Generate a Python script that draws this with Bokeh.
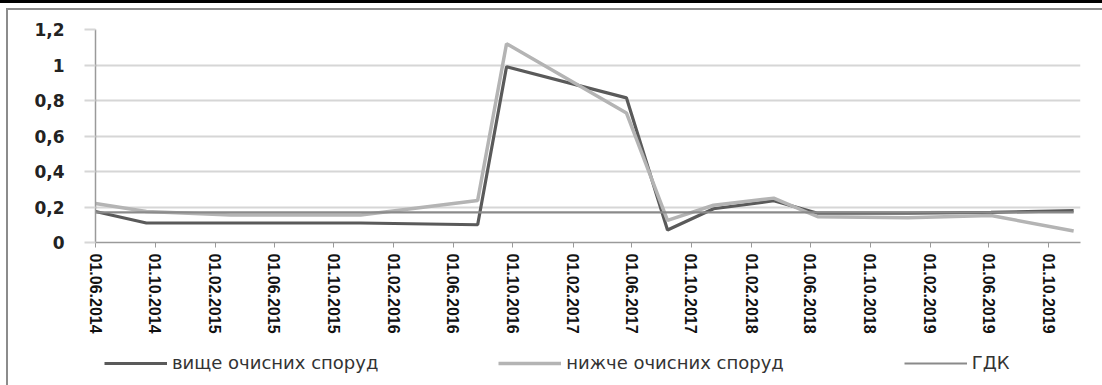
import pandas as pd
from bokeh.plotting import figure
from bokeh.layouts import column
from bokeh.models import (Range1d, FixedTicker, DatetimeTickFormatter, Legend,
                          LegendItem)
from bokeh.embed import file_html
from bokeh.resources import INLINE

# Sampling dates (dd.mm.yyyy)
sample_dates = ["01.06.2014", "13.09.2014", "04.03.2015", "25.11.2015", "21.07.2016",
                "18.09.2016", "21.05.2017", "13.08.2017", "15.11.2017", "18.03.2018",
                "16.06.2018", "17.12.2018", "05.06.2019", "21.11.2019"]

# Concentration above the treatment facilities
above = [0.175, 0.11, 0.11, 0.11, 0.10, 0.99, 0.815, 0.07, 0.19, 0.235,
         0.165, 0.165, 0.17, 0.18]
# Concentration below the treatment facilities
below = [0.22, 0.175, 0.155, 0.155, 0.237, 1.12, 0.73, 0.125, 0.21, 0.25,
         0.145, 0.14, 0.152, 0.065]
# Maximum permissible concentration
limit = [0.17, 0.17, 0.17, 0.17, 0.17, 0.17, 0.17, 0.17, 0.17, 0.17,
         0.17, 0.17, 0.17, 0.17]

series_names = ["вище очисних споруд", "нижче очисних споруд", "ГДК"]
series_colors = ["#5a5a5a", "#b4b4b4", "#8a8a8a"]
series_widths = [3.2, 3.5, 2.2]

x_tick_labels = ["01.06.2014", "01.10.2014", "01.02.2015", "01.06.2015", "01.10.2015",
                 "01.02.2016", "01.06.2016", "01.10.2016", "01.02.2017", "01.06.2017",
                 "01.10.2017", "01.02.2018", "01.06.2018", "01.10.2018", "01.02.2019",
                 "01.06.2019", "01.10.2019"]
y_ticks = [0, 0.2, 0.4, 0.6, 0.8, 1, 1.2]
y_tick_labels = ["0", "0,2", "0,4", "0,6", "0,8", "1", "1,2"]

x = pd.to_datetime(sample_dates, format="%d.%m.%Y")
tick_dt = pd.to_datetime(x_tick_labels, format="%d.%m.%Y")
tick_ms = [int(t.value // 10**6) for t in tick_dt]

W = 1102
H_CHART, H_LEGEND = 345, 40

p = figure(width=W, height=H_CHART, output_backend="svg", toolbar_location=None,
           x_axis_type="datetime",
           x_range=Range1d(pd.Timestamp("2014-06-01"), pd.Timestamp("2019-12-05")),
           y_range=Range1d(0, 1.2),
           min_border_left=95, min_border_right=22, min_border_top=29,
           min_border_bottom=103)
p.outline_line_color = None
p.background_fill_color = "white"
p.border_fill_alpha = 0

# grid
p.xgrid.grid_line_color = None
p.ygrid.grid_line_color = "#d6d6d6"
p.ygrid.grid_line_width = 2
p.ygrid.ticker = FixedTicker(ticks=y_ticks)

# y axis
ya = p.yaxis[0]
ya.ticker = FixedTicker(ticks=y_ticks)
ya.major_label_overrides = dict(zip(y_ticks, y_tick_labels))
ya.axis_line_color = "#9a9a9a"
ya.axis_line_width = 1.5
ya.major_tick_line_color = "#d6d6d6"
ya.major_tick_line_width = 2
ya.major_tick_out = 11
ya.major_tick_in = 0
ya.minor_tick_line_color = None
ya.major_label_standoff = 20
ya.major_label_text_font = "DejaVu Sans"
ya.major_label_text_font_style = "bold"
ya.major_label_text_font_size = "17px"
ya.major_label_text_color = "#222222"

# x axis
xa = p.xaxis[0]
xa.ticker = FixedTicker(ticks=tick_ms)
fmt = "%d.%m.%Y"
xa.formatter = DatetimeTickFormatter(days=fmt, months=fmt, years=fmt, hours=fmt)
xa.major_label_overrides = dict(zip(tick_ms, x_tick_labels))
xa.major_label_orientation = "vertical"
xa.axis_line_color = "#9a9a9a"
xa.axis_line_width = 1.5
xa.major_tick_line_color = "#9a9a9a"
xa.major_tick_line_width = 1
xa.major_tick_out = 5
xa.major_tick_in = 0
xa.minor_tick_line_color = None
xa.major_label_standoff = 6
xa.major_label_text_font = "Liberation Sans"
xa.major_label_text_font_style = "bold"
xa.major_label_text_font_size = "16px"
xa.major_label_text_color = "#111111"

# series
for vals, col, lw in zip([above, below, limit], series_colors, series_widths):
    p.line(x, vals, line_color=col, line_width=lw)

# legend strip under the chart; its y range sits above the data so the
# key renderers only supply the legend swatches
lg = figure(width=W, height=H_LEGEND, output_backend="svg", toolbar_location=None,
            x_range=p.x_range, y_range=Range1d(10, 11),
            min_border_left=95, min_border_right=22,
            min_border_top=0, min_border_bottom=0)
lg.axis.visible = False
lg.grid.visible = False
lg.outline_line_color = None
lg.background_fill_alpha = 0
lg.border_fill_alpha = 0
keys = [lg.line(x, vals, line_color=col, line_width=lw)
        for vals, col, lw in zip([above, below, limit], series_colors, series_widths)]
legend = Legend(items=[LegendItem(label=name, renderers=[r])
                       for name, r in zip(series_names, keys)],
                orientation="horizontal", location=(9, 12),
                glyph_width=63, glyph_height=16, label_standoff=5,
                label_width=0, spacing=120, padding=0, margin=0,
                border_line_color=None, background_fill_alpha=0)
legend.label_text_font = "DejaVu Sans"
legend.label_text_font_size = "18px"
legend.label_text_color = "#333333"
lg.add_layout(legend)

page = column(p, lg, spacing=0)
# page frame: black rule at the top, grey box edge below it and on the left
page.styles = {
    "background": ("linear-gradient(#000,#000) 0 0 / 100% 3px no-repeat, "
                   "linear-gradient(#8c8c8c,#8c8c8c) 6px 8px / 100% 2px no-repeat, "
                   "linear-gradient(#8c8c8c,#8c8c8c) 6px 8px / 2px 100% no-repeat, "
                   "#ffffff"),
}

open("out.html", "w").write(file_html(page, INLINE))
